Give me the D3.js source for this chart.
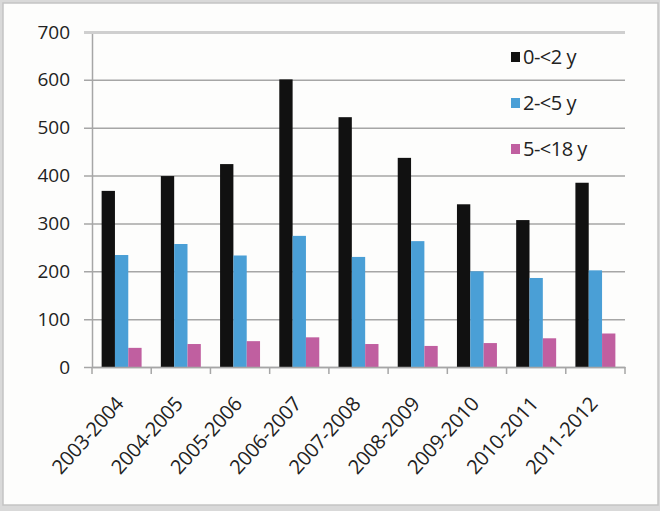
<!DOCTYPE html>
<html>
<head>
<meta charset="utf-8">
<script src="https://cdnjs.cloudflare.com/ajax/libs/d3/7.8.5/d3.min.js"></script>
<style>
  body { margin: 0; background: #fff; }
  svg text { font-family: "Open Sans", sans-serif; fill: #222; }
</style>
</head>
<body>
<div id="chart"></div>
<script>
// data
const seasons = ["2003-2004", "2004-2005", "2005-2006", "2006-2007", "2007-2008",
                 "2008-2009", "2009-2010", "2010-2011", "2011-2012"];
const series = ["0-<2 y", "2-<5 y", "5-<18 y"];
const age0to2 = [368, 399, 424, 601, 522, 437, 340, 307, 385];
const age2to5 = [234, 257, 233, 274, 230, 263, 200, 186, 202];
const age5to18 = [40, 48, 54, 62, 48, 44, 50, 60, 70];
const yTicks = [0, 100, 200, 300, 400, 500, 600, 700];
const colors = ["#111111", "#4a9fd6", "#c05fa0"];

const width = 660, height = 511;
const margin = {top: 32, right: 35, bottom: 144, left: 92};

const rows = seasons.map((s, i) => ({season: s, values: [age0to2[i], age2to5[i], age5to18[i]]}));

const svg = d3.select("#chart").append("svg")
  .attr("width", width)
  .attr("height", height);

// outer frame
svg.append("rect").attr("x", 0).attr("y", 0).attr("width", width).attr("height", height).attr("fill", "#d9d9d9");
svg.append("rect")
  .attr("x", 3).attr("y", 3).attr("width", width - 5).attr("height", 502)
  .attr("fill", "#fdfdfc").attr("stroke", "#c4c4c4").attr("stroke-width", 1.5);

const x = d3.scaleBand()
  .domain(seasons)
  .range([margin.left, width - margin.right])
  .paddingInner(0.325)
  .paddingOuter(0.1625);

const xSub = d3.scaleBand()
  .domain(series)
  .range([0, x.bandwidth()]);

const y = d3.scaleLinear()
  .domain([0, 700])
  .range([height - margin.bottom, margin.top]);

// y axis with gridlines
const yAxis = svg.append("g")
  .attr("transform", `translate(${margin.left},0)`)
  .call(d3.axisLeft(y).tickValues(yTicks)
    .tickSize(-(width - margin.right - margin.left))
    .tickSizeOuter(0)
    .tickPadding(0));
yAxis.select(".domain").attr("stroke", "#a6a6a6").attr("stroke-width", 1.5);
yAxis.selectAll(".tick line")
  .attr("x1", -8)
  .attr("stroke", (d) => d === 700 ? "#cfcfcf" : "#a6a6a6")
  .attr("stroke-width", (d) => d === 700 ? 3 : 1.5);
yAxis.selectAll(".tick text")
  .attr("x", -22)
  .attr("dy", "0.32em")
  .style("font-size", "19px");

// bars
const groups = svg.append("g").selectAll("g")
  .data(rows)
  .join("g")
  .attr("transform", d => `translate(${x(d.season)},0)`);

groups.selectAll("rect")
  .data(d => d.values.map((v, j) => ({key: series[j], value: v, c: colors[j]})))
  .join("rect")
  .attr("x", d => xSub(d.key))
  .attr("y", d => y(d.value))
  .attr("width", xSub.bandwidth())
  .attr("height", d => y(0) - y(d.value))
  .attr("fill", d => d.c);

// x axis
const step = x.step();
const xAxis = svg.append("g")
  .attr("transform", `translate(0,${y(0)})`)
  .call(d3.axisBottom(x).tickSize(0).tickSizeOuter(0).tickPadding(0));
xAxis.select(".domain").attr("stroke", "#a6a6a6").attr("stroke-width", 1.5);
xAxis.selectAll(".tick text")
  .attr("text-anchor", "end")
  .attr("transform", "translate(-2,33) rotate(-48)")
  .attr("dy", "0.35em")
  .attr("y", 0)
  .style("font-size", "20px")
  .style("letter-spacing", "-0.3px");

// boundary ticks between categories
const bounds = d3.range(seasons.length + 1).map(i => margin.left + i * step);
xAxis.selectAll(".bound")
  .data(bounds)
  .join("line")
  .attr("class", "bound")
  .attr("x1", d => d).attr("x2", d => d)
  .attr("y1", 0).attr("y2", 7)
  .attr("stroke", "#a6a6a6").attr("stroke-width", 1.5);

// legend
const legend = svg.append("g").selectAll("g")
  .data(series)
  .join("g")
  .attr("transform", (d, i) => `translate(511,${57 + i * 46})`);
legend.append("rect")
  .attr("x", 0).attr("y", -5)
  .attr("width", 9).attr("height", 10)
  .attr("fill", (d, i) => colors[i]);
legend.append("text")
  .attr("x", 12).attr("y", 0)
  .attr("dy", "0.36em")
  .style("font-size", "20px")
  .style("letter-spacing", "-0.5px")
  .text(d => d);
</script>
</body>
</html>
